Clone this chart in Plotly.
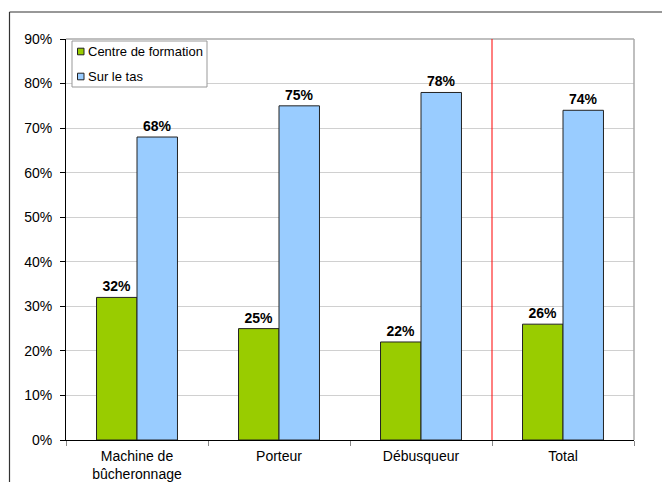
import plotly.graph_objects as go

categories = ["Machine de<br>bûcheronnage", "Porteur", "Débusqueur", "Total"]
series_names = ["Centre de formation", "Sur le tas"]
centre_formation = [32, 25, 22, 26]
sur_le_tas = [68, 75, 78, 74]
y_ticks = [0, 10, 20, 30, 40, 50, 60, 70, 80, 90]
y_labels = [f"{v}%" for v in y_ticks]
colors = ["#99CC00", "#99CCFF"]

# page has an 8px body margin; reference pixel coords are shifted by OFF
OFF = 8
W, H = 670 - OFF, 482 - OFF
L, R, T, B = 66 - OFF, 36, 39 - OFF, 42
pw, ph = W - L - R, H - T - B

FONT = "Liberation Sans, Arial"

fig = go.Figure()
for name, vals, col in zip(series_names, [centre_formation, sur_le_tas], colors):
    fig.add_bar(name=name, x=categories, y=vals,
                marker=dict(color=col, line=dict(color="#222222", width=1)),
                text=[f"{v}%" for v in vals], texttemplate="<b>%{text}</b>",
                textposition="outside",
                textfont=dict(family=FONT, size=14, color="black"),
                cliponaxis=False, showlegend=False)


def px_x(x):
    return (x - OFF - L) / pw


def px_y(y):
    return 1 - (y - OFF - T) / ph


shapes = [
    # plot area border top and right
    dict(type="line", xref="paper", yref="paper", x0=0, x1=1, y0=1, y1=1,
         line=dict(color="#aaaaaa", width=1.5)),
    dict(type="line", xref="paper", yref="paper", x0=1, x1=1, y0=0, y1=1,
         line=dict(color="#aaaaaa", width=1.5)),
    # red separator
    dict(type="line", xref="x", yref="paper", x0=2.5, x1=2.5, y0=0, y1=1,
         line=dict(color="#ff0000", width=1)),
    # outer frame
    dict(type="line", xref="paper", yref="paper", x0=px_x(9.5), x1=px_x(690),
         y0=px_y(12), y1=px_y(12), line=dict(color="#333333", width=1.2)),
    dict(type="line", xref="paper", yref="paper", x0=px_x(9.5), x1=px_x(9.5),
         y0=px_y(12), y1=px_y(520), line=dict(color="#333333", width=1.2)),
    # legend box
    dict(type="rect", xref="paper", yref="paper", x0=px_x(72), x1=px_x(207),
         y0=px_y(87), y1=px_y(41), fillcolor="white",
         line=dict(color="#999999", width=1)),
]
annotations = []
for i, (name, col) in enumerate(zip(series_names, colors)):
    cy = 51.5 + i * 25
    shapes.append(dict(type="rect", xref="paper", yref="paper",
                       x0=px_x(77.5), x1=px_x(84), y0=px_y(cy + 3.3), y1=px_y(cy - 3.3),
                       fillcolor=col, line=dict(color="#222222", width=1)))
    annotations.append(dict(xref="paper", yref="paper", x=px_x(86), y=px_y(cy),
                            text=name, showarrow=False, xanchor="left", yanchor="middle",
                            font=dict(family=FONT, size=13, color="black")))

fig.update_layout(
    width=W, height=H,
    margin=dict(l=L, r=R, t=T, b=B, autoexpand=False),
    paper_bgcolor="white", plot_bgcolor="white",
    barmode="group", bargap=0.43, bargroupgap=0,
    font=dict(family=FONT, size=14, color="black"),
    showlegend=False,
    xaxis=dict(showline=True, linecolor="black", linewidth=1,
               ticks="outside", ticklen=5, tickcolor="#888888",
               tickson="boundaries", showgrid=False,
               ticklabelstandoff=3,
               tickfont=dict(size=14)),
    yaxis=dict(range=[0, 90], tickvals=y_ticks, ticktext=y_labels,
               showline=True, linecolor="black", linewidth=1,
               ticks="outside", ticklen=5, tickcolor="black",
               ticklabelstandoff=5,
               showgrid=True, gridcolor="#d0d0d0", gridwidth=1,
               zeroline=False, tickfont=dict(size=14)),
    shapes=shapes,
    annotations=annotations,
)

fig.write_html("out.html")
